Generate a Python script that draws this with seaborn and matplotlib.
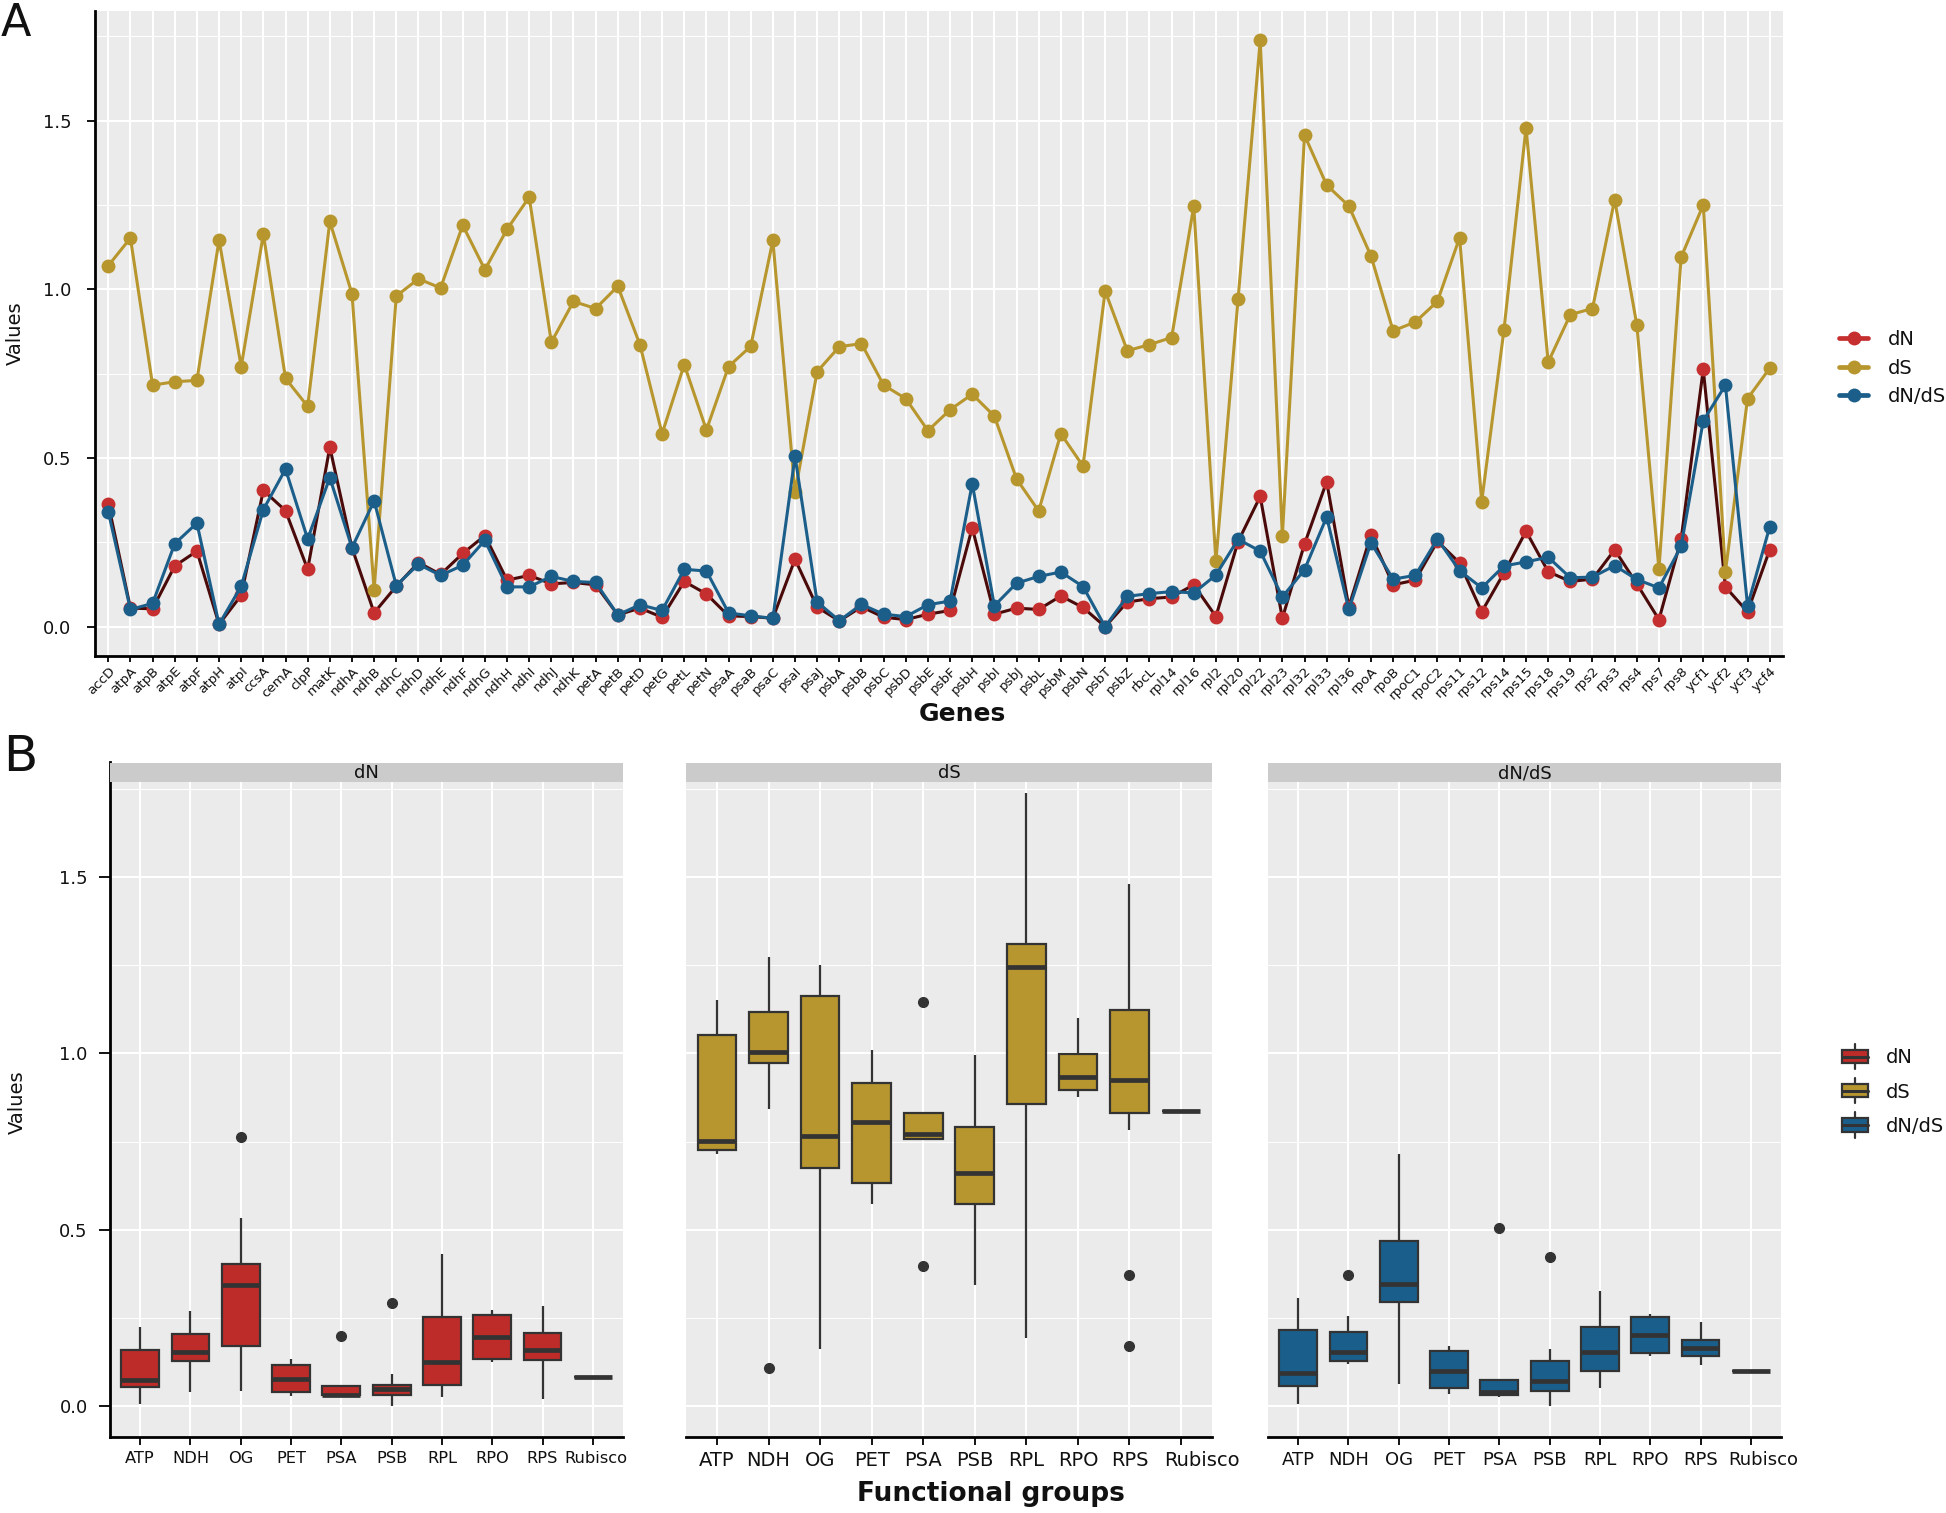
import matplotlib

matplotlib.use("Agg")
import matplotlib.pyplot as plt
import matplotlib.transforms as mtransforms
import pandas as pd
import seaborn as sns
from matplotlib.legend_handler import HandlerBase
from matplotlib.lines import Line2D
from matplotlib.patches import Patch, Rectangle

# ---- data ---------------------------------------------------------------
genes = [
    "accD", "atpA", "atpB", "atpE", "atpF", "atpH", "atpI", "ccsA", "cemA", "clpP",
    "matK", "ndhA", "ndhB", "ndhC", "ndhD", "ndhE", "ndhF", "ndhG", "ndhH", "ndhI",
    "ndhJ", "ndhK", "petA", "petB", "petD", "petG", "petL", "petN", "psaA", "psaB",
    "psaC", "psaI", "psaJ", "psbA", "psbB", "psbC", "psbD", "psbE", "psbF", "psbH",
    "psbI", "psbJ", "psbL", "psbM", "psbN", "psbT", "psbZ", "rbcL", "rpl14", "rpl16",
    "rpl2", "rpl20", "rpl22", "rpl23", "rpl32", "rpl33", "rpl36", "rpoA", "rpoB", "rpoC1",
    "rpoC2", "rps11", "rps12", "rps14", "rps15", "rps18", "rps19", "rps2", "rps3", "rps4",
    "rps7", "rps8", "ycf1", "ycf2", "ycf3", "ycf4",
]

groups = (
    ["OG"] + ["ATP"] * 6 + ["OG"] * 4 + ["NDH"] * 11 + ["PET"] * 6 + ["PSA"] * 5
    + ["PSB"] * 14 + ["Rubisco"] + ["RPL"] * 9 + ["RPO"] * 4 + ["RPS"] * 11 + ["OG"] * 4
)

dn = [
    0.364, 0.055, 0.053, 0.180, 0.224, 0.007, 0.093, 0.404, 0.344, 0.170,
    0.532, 0.234, 0.041, 0.120, 0.190, 0.155, 0.217, 0.270, 0.138, 0.152,
    0.127, 0.131, 0.124, 0.035, 0.055, 0.028, 0.134, 0.097, 0.032, 0.030,
    0.025, 0.200, 0.058, 0.017, 0.059, 0.028, 0.021, 0.037, 0.048, 0.293,
    0.037, 0.055, 0.051, 0.091, 0.057, 0.000, 0.073, 0.083, 0.088, 0.124,
    0.030, 0.252, 0.386, 0.025, 0.245, 0.430, 0.059, 0.272, 0.124, 0.138,
    0.253, 0.189, 0.044, 0.159, 0.283, 0.163, 0.134, 0.141, 0.228, 0.127,
    0.021, 0.259, 0.763, 0.118, 0.044, 0.228,
]

ds = [
    1.070, 1.152, 0.716, 0.726, 0.730, 1.146, 0.771, 1.164, 0.736, 0.653,
    1.201, 0.987, 0.109, 0.980, 1.031, 1.004, 1.190, 1.058, 1.178, 1.273,
    0.843, 0.964, 0.943, 1.009, 0.836, 0.572, 0.777, 0.583, 0.771, 0.831,
    1.145, 0.398, 0.756, 0.830, 0.839, 0.716, 0.676, 0.581, 0.643, 0.689,
    0.624, 0.438, 0.343, 0.572, 0.476, 0.995, 0.818, 0.836, 0.857, 1.246,
    0.194, 0.971, 1.738, 0.268, 1.457, 1.309, 1.247, 1.099, 0.877, 0.903,
    0.964, 1.153, 0.371, 0.878, 1.479, 0.784, 0.925, 0.943, 1.266, 0.895,
    0.170, 1.095, 1.250, 0.162, 0.676, 0.766,
]

dnds = [
    0.341, 0.051, 0.069, 0.246, 0.307, 0.007, 0.120, 0.347, 0.467, 0.260,
    0.442, 0.234, 0.373, 0.122, 0.185, 0.152, 0.182, 0.256, 0.118, 0.118,
    0.149, 0.134, 0.131, 0.035, 0.065, 0.048, 0.170, 0.165, 0.041, 0.032,
    0.025, 0.505, 0.073, 0.018, 0.066, 0.037, 0.030, 0.065, 0.076, 0.424,
    0.062, 0.129, 0.149, 0.162, 0.119, 0.000, 0.090, 0.098, 0.104, 0.100,
    0.153, 0.259, 0.224, 0.088, 0.169, 0.325, 0.051, 0.249, 0.141, 0.152,
    0.260, 0.166, 0.115, 0.180, 0.192, 0.206, 0.145, 0.147, 0.181, 0.140,
    0.115, 0.238, 0.610, 0.716, 0.062, 0.296,
]

group_order = ["ATP", "NDH", "OG", "PET", "PSA", "PSB", "RPL", "RPO", "RPS", "Rubisco"]
measures = ["dN", "dS", "dN/dS"]

line_colors = {"dN": "#4B0A0A", "dS": "#B8962E", "dN/dS": "#1B5E8A"}
point_colors = {"dN": "#C62F2F", "dS": "#B8962E", "dN/dS": "#1B5E8A"}
box_colors = {"dN": "#BE2C2A", "dS": "#B8962F", "dN/dS": "#1A5F8B"}

df = pd.DataFrame({"gene": genes, "group": groups, "dN": dn, "dS": ds, "dN/dS": dnds})
long = df.melt(id_vars=["gene", "group"], value_vars=measures,
               var_name="measure", value_name="value")

sns.set_theme(style="darkgrid")
plt.rcParams["font.family"] = ["DejaVu Sans"]
plt.rcParams["text.color"] = "#111111"

W, H = 1946, 1513
fig = plt.figure(figsize=(W / 100, H / 100), dpi=100)


def px_axes(left, top, right, bottom):
    return fig.add_axes([left / W, 1 - bottom / H, (right - left) / W, (bottom - top) / H])


vmin, vmax = long["value"].min(), long["value"].max()
pad = 0.05 * (vmax - vmin)


def style_panel(ax, left_axis=True):
    ax.set_facecolor("#EBEBEB")
    ax.set_ylim(vmin - pad, vmax + pad)
    ax.set_yticks([0, 0.5, 1.0, 1.5])
    ax.set_yticklabels(["0.0", "0.5", "1.0", "1.5"])
    ax.set_yticks([0.25, 0.75, 1.25, 1.75], minor=True)
    ax.grid(True, which="major", axis="both", color="white", lw=1.5)
    ax.grid(True, which="minor", axis="y", color="white", lw=0.7)
    ax.set_axisbelow(True)
    for s in ax.spines.values():
        s.set_visible(False)
    ax.spines["bottom"].set_visible(True)
    ax.spines["bottom"].set_color("black")
    ax.spines["bottom"].set_linewidth(2)
    if left_axis:
        ax.spines["left"].set_visible(True)
        ax.spines["left"].set_color("black")
        ax.spines["left"].set_linewidth(2)
    ax.tick_params(which="minor", length=0)
    ax.set_xlabel("")
    ax.set_ylabel("")


# ---- panel A ------------------------------------------------------------
ax = px_axes(95, 11, 1783, 656)
for m in measures:
    sns.lineplot(data=df, x="gene", y=m, sort=False, estimator=None, ax=ax,
                 color=line_colors[m], lw=2.2, marker="o", markersize=10,
                 markerfacecolor=point_colors[m], markeredgecolor=point_colors[m],
                 markeredgewidth=0, legend=False)
style_panel(ax)
ax.set_xlim(-0.6, len(genes) - 0.4)
ax.tick_params(axis="x", which="major", bottom=True, length=4, width=1.3,
               color="black", pad=2, labelsize=9.6, labelcolor="#111111")
ax.tick_params(axis="y", which="major", left=True, length=6, width=1.3,
               color="black", pad=11, labelsize=13, labelcolor="#111111")
ax.set_xticks(range(len(genes)))
ax.set_xticklabels(genes, rotation=45, ha="right", va="top",
                   rotation_mode="anchor", fontsize=9.6)

fig.legend(
    handles=[Line2D([], [], color=point_colors[m], lw=3.4, marker="o",
                    markersize=10, markeredgewidth=0) for m in measures],
    labels=measures, loc="center left", bbox_to_anchor=(1839 / W, 1 - 368 / H),
    frameon=False, fontsize=14, handlelength=1.5, handletextpad=1.0,
    labelspacing=0.5, borderpad=0, borderaxespad=0,
)


# ---- panel B ------------------------------------------------------------
class BoxKey(HandlerBase):
    def create_artists(self, legend, orig, xd, yd, w, h, fs, trans):
        x0, y0 = -xd, -yd
        wh = Line2D([x0 + w / 2] * 2, [y0 - 0.45 * h, y0 + 1.45 * h],
                    color="#333333", lw=1.6, transform=trans)
        box = Rectangle((x0, y0), w, h, facecolor=orig.get_facecolor(),
                        edgecolor="#333333", lw=1.6, transform=trans)
        med = Line2D([x0, x0 + w], [y0 + h / 2] * 2, color="#333333",
                     lw=2.2, transform=trans)
        return [wh, box, med]


# measure, left px, right px, tick font size, shift of the last label (px)
facets = [("dN", 110, 623, 11.7, 3), ("dS", 686, 1212, 14, 21), ("dN/dS", 1268, 1781, 13, 12)]
for i, (m, left, right, fs, shift) in enumerate(facets):
    bx = px_axes(left, 762.5, right, 1436.7)
    sub = long[long["measure"] == m]
    sns.boxplot(data=sub, x="group", y="value", order=group_order, ax=bx,
                color=box_colors[m], saturation=1, width=0.75,
                linecolor="#333333", linewidth=1.6, fliersize=7,
                showcaps=False, whis=1.5,
                medianprops={"linewidth": 3.4},
                flierprops={"marker": "o", "markerfacecolor": "#333333",
                            "markeredgecolor": "#333333"})
    style_panel(bx, left_axis=(i == 0))
    bx.set_xlim(-0.6, len(group_order) - 0.4)
    bx.tick_params(axis="x", which="major", bottom=True, length=6, width=1.3,
                   color="black", pad=4, labelsize=fs, labelcolor="#111111")
    last = bx.get_xticklabels()[-1]
    last.set_transform(last.get_transform()
                       + mtransforms.ScaledTranslation(shift / 100, 0, fig.dpi_scale_trans))
    if i == 0:
        bx.tick_params(axis="y", which="major", left=True, length=8, width=1.3,
                       color="black", pad=8, labelsize=13, labelcolor="#111111")
    else:
        bx.tick_params(axis="y", which="major", left=False, labelleft=False)

    sx = px_axes(left, 762.5, right, 782.4)
    sx.set_facecolor("#CBCBCB")
    sx.set_xticks([])
    sx.set_yticks([])
    sx.grid(False)
    for s in sx.spines.values():
        s.set_visible(False)
    sx.text(0.5, 0.45, m, ha="center", va="center", fontsize=13,
            transform=sx.transAxes)

fig.legend(
    handles=[Patch(facecolor=box_colors[m]) for m in measures], labels=measures,
    handler_map={Patch: BoxKey()}, loc="center left",
    bbox_to_anchor=(1842 / W, 1 - 1092 / H), frameon=False, fontsize=14,
    handlelength=1.35, handleheight=0.68, handletextpad=0.9,
    labelspacing=0.78, borderpad=0, borderaxespad=0,
)

# ---- titles / labels ----------------------------------------------------
narrow = ["Liberation Sans Narrow", "DejaVu Sans"]
fig.text(15 / W, 1 - 333 / H, "Values", rotation=90, ha="center", va="center",
         fontsize=14, family=narrow)
fig.text(17 / W, 1 - 1102 / H, "Values", rotation=90, ha="center", va="center",
         fontsize=14, family=narrow)
fig.text(962 / W, 1 - 714 / H, "Genes", ha="center", va="center",
         fontsize=18, fontweight="bold")
fig.text(991 / W, 1 - 1494 / H, "Functional groups", ha="center", va="center",
         fontsize=19, fontweight="bold")
fig.text(1 / W, 1 - 2 / H, "A", ha="left", va="top", fontsize=32)
fig.text(3 / W, 1 - 733 / H, "B", ha="left", va="top", fontsize=36)

fig.savefig("out.png", dpi=100, facecolor="white")
